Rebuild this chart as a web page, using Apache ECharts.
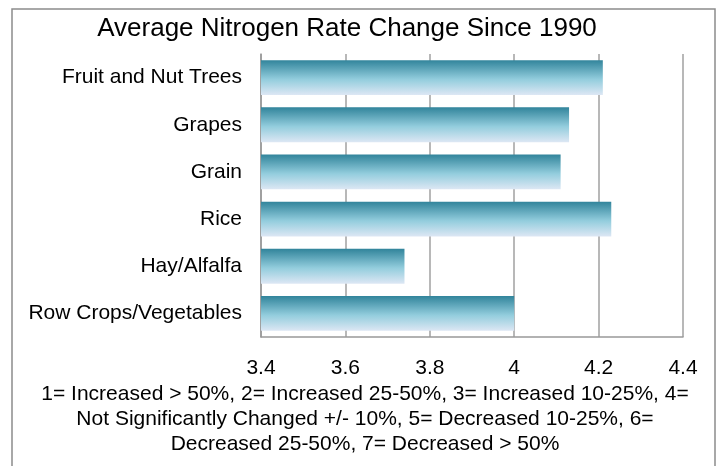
<!DOCTYPE html>
<html>
<head>
<meta charset="utf-8">
<script src="https://cdn.jsdelivr.net/npm/echarts@6/dist/echarts.min.js"></script>
<style>
html,body{margin:0;padding:0;background:#fff;}
#c{width:720px;height:466px;}
</style>
</head>
<body>
<div id="c"></div>
<script>
const titleText = 'Average Nitrogen Rate Change Since 1990';
const categories = ['Fruit and Nut Trees', 'Grapes', 'Grain', 'Rice', 'Hay/Alfalfa', 'Row Crops/Vegetables'];
const values = [4.21, 4.13, 4.11, 4.23, 3.74, 4.00];
const footnoteLines = [
  '1= Increased > 50%, 2= Increased 25-50%, 3= Increased 10-25%, 4=',
  'Not Significantly Changed +/- 10%, 5= Decreased 10-25%, 6=',
  'Decreased 25-50%, 7= Decreased > 50%'
];
const FONT = "'Liberation Sans', Arial, sans-serif";

const chart = echarts.init(document.getElementById('c'), null, {renderer: 'canvas'});
chart.setOption({
  animation: false,
  backgroundColor: '#fff',
  grid: {left: 261, right: 37, top: 54, bottom: 129, containLabel: false},
  xAxis: {
    type: 'value', min: 3.4, max: 4.4, interval: 0.2,
    axisLine: {show: true, lineStyle: {color: '#999', width: 1.5}},
    axisTick: {show: false},
    splitLine: {show: true, lineStyle: {color: '#a0a0a0', width: 1.5}},
    axisLabel: {
      margin: 21, color: '#000', fontSize: 21, fontFamily: FONT,
      formatter: v => String(+v.toFixed(1))
    }
  },
  yAxis: {
    type: 'category', data: categories, inverse: true,
    axisLine: {show: true, lineStyle: {color: '#999', width: 1.5}},
    axisTick: {show: false},
    axisLabel: {margin: 19, color: '#000', fontSize: 21, fontFamily: FONT}
  },
  series: [{
    type: 'bar', data: values, barCategoryGap: '26%',
    itemStyle: {
      color: new echarts.graphic.LinearGradient(0, 0, 0, 1, [
        {offset: 0, color: '#31849b'},
        {offset: 0.55, color: '#93cddd'},
        {offset: 1, color: '#dde7f4'}
      ])
    }
  }],
  graphic: [
    {type: 'rect', shape: {x: 12, y: 9, width: 703, height: 470},
     style: {fill: 'none', stroke: '#8c8c8c', lineWidth: 1.5}, silent: true, z: -1},
    {type: 'text', x: 347, y: 29,
     style: {text: titleText, fontSize: 26, fontFamily: FONT, fill: '#000', align: 'center', verticalAlign: 'middle'}},
    {type: 'text', x: 365, y: 382,
     style: {text: footnoteLines.join('\n'), fontSize: 21, lineHeight: 25, fontFamily: FONT, fill: '#000', align: 'center', verticalAlign: 'top'}}
  ]
});
</script>
</body>
</html>
